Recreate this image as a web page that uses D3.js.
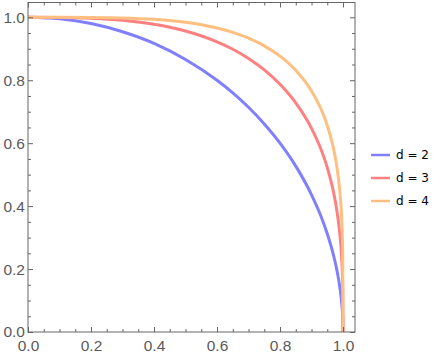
<!DOCTYPE html>
<html>
<head>
<meta charset="utf-8">
<script src="https://cdn.jsdelivr.net/npm/d3@7"></script>
<style>
  body { margin: 0; background: #fff; }
  svg { display: block; font-family: "DejaVu Sans", sans-serif; }
</style>
</head>
<body>
<svg id="chart" width="434" height="356"></svg>
<script>
const xs = [0, 0.1, 0.2, 0.3, 0.4, 0.5, 0.6, 0.65, 0.7, 0.75, 0.8, 0.85, 0.9, 0.93, 0.95, 0.97, 0.98, 0.99, 0.995, 0.999, 1.0];

// y values per series
const d2 = [1, 0.995, 0.980, 0.954, 0.917, 0.866, 0.800, 0.760, 0.714, 0.661, 0.600, 0.527, 0.436, 0.368, 0.312, 0.243, 0.199, 0.141, 0.100, 0.045, 0];
const d3v = [1, 0.9997, 0.9973, 0.9909, 0.9782, 0.9565, 0.9221, 0.8986, 0.8694, 0.8331, 0.7873, 0.7280, 0.6472, 0.5806, 0.5225, 0.4436, 0.3889, 0.3097, 0.2462, 0.1442, 0];
const d4 = [1, 1.0, 0.9996, 0.9980, 0.9935, 0.9840, 0.9659, 0.9520, 0.9337, 0.9093, 0.8766, 0.8315, 0.7658, 0.7085, 0.6563, 0.5820, 0.5279, 0.4455, 0.3754, 0.2514, 0];

const seriesNames = ["d = 2", "d = 3", "d = 4"];
const seriesColors = ["#8080ff", "#ff8080", "#ffbf80"];
const seriesValues = [d2, d3v, d4];

const majorTicks = [0, 0.2, 0.4, 0.6, 0.8, 1.0];

const svg = d3.select("#chart");

// frame of the plot
const frame = { left: 28, right: 355, top: 2.5, bottom: 332 };

const x = d3.scaleLinear().domain([0, 1.038]).range([frame.left, frame.right]);
const y = d3.scaleLinear().domain([0, 1.047]).range([frame.bottom, frame.top]);

svg.append("clipPath").attr("id", "clip")
  .append("rect")
  .attr("x", frame.left).attr("y", frame.top)
  .attr("width", frame.right - frame.left).attr("height", frame.bottom - frame.top);

const line = d3.line()
  .x((d, i) => x(xs[i]))
  .y(d => y(d))
  .curve(d3.curveMonotoneX);

// curves
seriesValues.forEach((vals, k) => {
  svg.append("path")
    .datum(vals)
    .attr("clip-path", "url(#clip)")
    .attr("fill", "none")
    .attr("stroke", seriesColors[k])
    .attr("stroke-width", 3)
    .attr("d", line);
});

// minor ticks every 0.05
const minorTicks = d3.range(0, 1.04, 0.05).filter(v => Math.abs(v * 5 - Math.round(v * 5)) > 1e-6);

const frameColor = "#666";
const labelColor = "#5a5a5a";

function styleAxis(g) {
  g.select(".domain").remove();
  g.selectAll(".tick line").attr("stroke", frameColor);
  g.selectAll(".tick text").attr("fill", labelColor).style("font-size", "15.5px");
}

// bottom axis with labels, ticks inward
svg.append("g").attr("transform", `translate(0,${frame.bottom})`)
  .call(d3.axisBottom(x).tickValues(majorTicks).tickFormat(d3.format(".1f")).tickSizeInner(-5).tickPadding(7.5))
  .call(styleAxis);
svg.append("g").attr("transform", `translate(0,${frame.bottom})`)
  .call(d3.axisBottom(x).tickValues(minorTicks).tickFormat("").tickSizeInner(-3))
  .call(styleAxis);

// left axis
svg.append("g").attr("transform", `translate(${frame.left},0)`)
  .call(d3.axisLeft(y).tickValues(majorTicks).tickFormat(d3.format(".1f")).tickSizeInner(-5).tickPadding(3))
  .call(styleAxis);
svg.append("g").attr("transform", `translate(${frame.left},0)`)
  .call(d3.axisLeft(y).tickValues(minorTicks).tickFormat("").tickSizeInner(-3))
  .call(styleAxis);

// top and right frame ticks, no labels
svg.append("g").attr("transform", `translate(0,${frame.top})`)
  .call(d3.axisTop(x).tickValues(majorTicks).tickFormat("").tickSizeInner(-5))
  .call(styleAxis);
svg.append("g").attr("transform", `translate(0,${frame.top})`)
  .call(d3.axisTop(x).tickValues(minorTicks).tickFormat("").tickSizeInner(-3))
  .call(styleAxis);
svg.append("g").attr("transform", `translate(${frame.right},0)`)
  .call(d3.axisRight(y).tickValues(majorTicks).tickFormat("").tickSizeInner(-5))
  .call(styleAxis);
svg.append("g").attr("transform", `translate(${frame.right},0)`)
  .call(d3.axisRight(y).tickValues(minorTicks).tickFormat("").tickSizeInner(-3))
  .call(styleAxis);

// frame
svg.append("rect")
  .attr("x", frame.left).attr("y", frame.top)
  .attr("width", frame.right - frame.left).attr("height", frame.bottom - frame.top)
  .attr("fill", "none")
  .attr("stroke", frameColor)
  .attr("stroke-width", 1);

// legend
const legend = svg.append("g").attr("transform", "translate(371,155)");
seriesNames.forEach((name, k) => {
  const row = legend.append("g").attr("transform", `translate(0,${k * 23})`);
  row.append("line")
    .attr("x1", 0).attr("x2", 19)
    .attr("stroke", seriesColors[k])
    .attr("stroke-width", 2.5);
  row.append("text")
    .attr("x", 25).attr("y", 0)
    .attr("dy", "0.35em")
    .style("font-size", "12px")
    .attr("fill", "#000")
    .text(name);
});
</script>
</body>
</html>
